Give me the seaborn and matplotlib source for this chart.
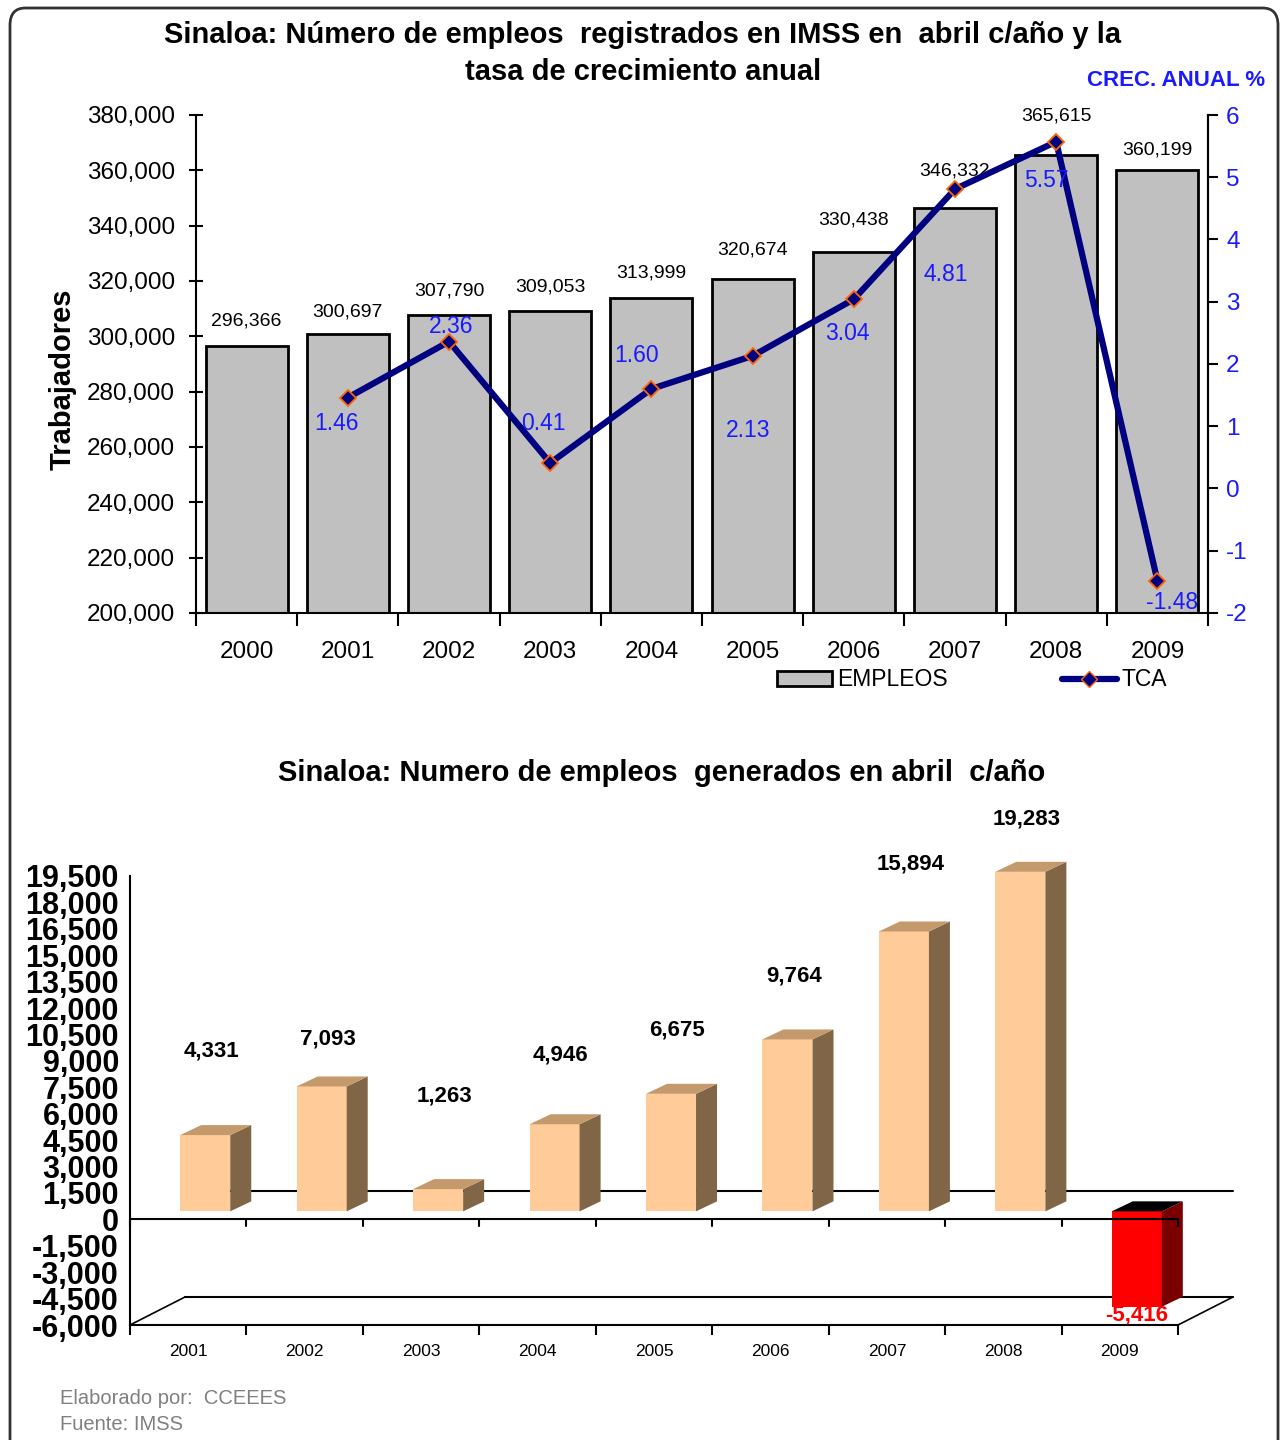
import matplotlib
matplotlib.use("Agg")
import matplotlib.pyplot as plt
import numpy as np
import seaborn as sns
from matplotlib.lines import Line2D
from matplotlib.patches import FancyBboxPatch, Patch, Polygon
from matplotlib.transforms import ScaledTranslation

# datos: empleos registrados en IMSS (abril de cada año)
years = ["2000", "2001", "2002", "2003", "2004", "2005", "2006", "2007", "2008", "2009"]
empleos = [296366, 300697, 307790, 309053, 313999, 320674, 330438, 346332, 365615, 360199]
tca_years = ["2001", "2002", "2003", "2004", "2005", "2006", "2007", "2008", "2009"]
tca = [1.46, 2.36, 0.41, 1.60, 2.13, 3.04, 4.81, 5.57, -1.48]

# empleos generados en abril de cada año
gen_years = ["2001", "2002", "2003", "2004", "2005", "2006", "2007", "2008", "2009"]
generados = [4331, 7093, 1263, 4946, 6675, 9764, 15894, 19283, -5416]

# ajustes de etiquetas (pixeles)
bar_label_pad = [25, 22, 24, 24, 25, 29, 32, 37, 39, 20]
tca_label_off = [(-11, -26), (2, 15), (-7, 39), (-15, 33), (-4, -75),
                 (-6, -34), (-9, -85), (-10, -39), (15, -22)]
gen_label_pad = [84, 47, 93, 69, 64, 63, 67, 53, -8]

sns.set_style("white")
plt.rcParams["font.family"] = ["Liberation Sans", "DejaVu Sans"]
plt.rcParams["axes.unicode_minus"] = False
for k in ["text.color", "axes.labelcolor", "xtick.color", "ytick.color"]:
    plt.rcParams[k] = "black"

W, H = 1283, 1440
fig = plt.figure(figsize=(W / 100, H / 100), dpi=100)
fig.patch.set_facecolor("white")


def fx(px):
    return px / W


def fy(py):
    return 1 - py / H


# marco redondeado
frame = FancyBboxPatch((fx(10), fy(1460)), fx(1268), (1460 - 8) / H,
                       boxstyle="round,pad=0,rounding_size=0.012",
                       transform=fig.transFigure, fill=False,
                       edgecolor="#333333", linewidth=2)
fig.patches.append(frame)

# ---------------- grafica superior ----------------
ax = fig.add_axes([fx(196), fy(613), fx(1208 - 196), (613 - 115) / H])
sns.barplot(x=years, y=empleos, color="#C0C0C0", edgecolor="black",
            linewidth=2, width=0.81, saturation=1, ax=ax)
ax.set_ylim(200000, 380000)
ax.set_xlim(-0.5, len(years) - 0.5)
ax.set_yticks(np.arange(200000, 380001, 20000))
ax.yaxis.set_major_formatter(matplotlib.ticker.StrMethodFormatter("{x:,.0f}"))
ax.tick_params(axis="y", labelsize=17.5, direction="inout", length=10, width=1.5, pad=10)
ax.set_xticks(np.arange(len(years) + 1) - 0.5)
ax.set_xticklabels([])
ax.set_xticks(np.arange(len(years)), minor=True)
ax.set_xticklabels(years, minor=True)
ax.tick_params(axis="x", which="major", direction="out", length=9, width=1.5, bottom=True)
ax.tick_params(axis="x", which="minor", length=0, labelsize=17.5, pad=20)
ax.set_xlabel("")
ax.set_ylabel("Trabajadores", fontsize=21, fontweight="bold")
ax.yaxis.set_label_coords(-0.118, 0.47)
ax.spines["top"].set_visible(False)
for s in ["left", "bottom", "right"]:
    ax.spines[s].set_linewidth(1.5)
    ax.spines[s].set_color("black")

for p, v, pad in zip(ax.patches, empleos, bar_label_pad):
    ax.annotate(f"{v:,}", (p.get_x() + p.get_width() / 2, v),
                xytext=(0, pad), textcoords="offset pixels",
                ha="center", va="center", fontsize=14)

ax2 = ax.twinx()
tca_x = [years.index(y) for y in tca_years]
sns.lineplot(x=tca_x, y=tca, ax=ax2, color="#000080", linewidth=4.5,
             marker="D", markersize=8, markerfacecolor="#000080",
             markeredgecolor="#FF6600", markeredgewidth=1.3, legend=False)
ax2.set_ylim(-2, 6)
ax2.set_yticks(np.arange(-2, 7, 1))
ax2.tick_params(axis="y", labelsize=17.5, labelcolor="#1a1aff", direction="out",
                length=7, width=1.5, pad=6)
ax2.spines["top"].set_visible(False)
ax2.spines["right"].set_linewidth(1.5)
ax2.spines["right"].set_color("black")
ax2.spines["left"].set_visible(False)
ax2.spines["bottom"].set_visible(False)
ax2.set_ylabel("")
for xi, v, off in zip(tca_x, tca, tca_label_off):
    ax2.annotate(f"{v:.2f}", (xi, v), xytext=off, textcoords="offset pixels",
                 ha="center", va="center", fontsize=16.5, color="#1a1aff")

fig.text(fx(643), fy(35), "Sinaloa: Número de empleos  registrados en IMSS en  abril c/año y la",
         ha="center", va="center", fontsize=21, fontweight="bold")
fig.text(fx(643), fy(72), "tasa de crecimiento anual",
         ha="center", va="center", fontsize=21, fontweight="bold")
fig.text(fx(1176), fy(81), "CREC. ANUAL %", ha="center", va="center",
         fontsize=16, fontweight="bold", color="#1a1aff")

# leyenda
handles = [Patch(facecolor="#C0C0C0", edgecolor="black", linewidth=2, label="EMPLEOS"),
           Line2D([], [], color="#000080", linewidth=4.5, marker="D", markersize=8,
                  markerfacecolor="#000080", markeredgecolor="#FF6600", label="TCA")]
fig.legend(handles=handles, loc="center", bbox_to_anchor=(fx(972), fy(680)), ncol=2,
           frameon=False, fontsize=16.5, handlelength=2.4, handleheight=0.6,
           handletextpad=0.2, columnspacing=5.0)

# ---------------- grafica inferior ----------------
bx = fig.add_axes([fx(130), fy(1325), fx(1178 - 130), (1325 - 876) / H])
pal = {y: ("#FFCC99" if v >= 0 else "#FF0000") for y, v in zip(gen_years, generados)}
sns.barplot(x=gen_years, y=generados, hue=gen_years, palette=pal, legend=False,
            width=0.43, saturation=1, linewidth=0, ax=bx)
bx.set_xlim(-0.5, len(gen_years) - 0.5)
bx.set_ylim(-6000, 19500)
bx.set_yticks(np.arange(-6000, 19501, 1500))
bx.yaxis.set_major_formatter(matplotlib.ticker.StrMethodFormatter("{x:,.0f}"))
bx.tick_params(axis="y", labelsize=22, direction="out", length=6, width=1.5, pad=2)
for lab in bx.get_yticklabels():
    lab.set_fontweight("bold")
bx.set_xticks(np.arange(len(gen_years) + 1) - 0.5)
bx.set_xticklabels([])
bx.set_xticks(np.arange(len(gen_years)), minor=True)
bx.set_xticklabels(gen_years, minor=True)
bx.tick_params(axis="x", which="major", direction="out", length=7, width=1.5, bottom=True)
bx.tick_params(axis="x", which="minor", length=0, labelsize=12.5, pad=14)
bx.set_xlabel("")
bx.set_ylabel("")
for s in ["top", "right"]:
    bx.spines[s].set_visible(False)
for s in ["left", "bottom"]:
    bx.spines[s].set_linewidth(1.5)
    bx.spines[s].set_color("black")

# conversion pixeles -> datos para el efecto 3D
inv = bx.transData.inverted()
o = bx.transData.transform((0, 0))


def px2data(dx, dy):
    d = inv.transform((o[0] + dx, o[1] + dy))
    return d[0], d[1]


back = bx.transData + ScaledTranslation(0.55, 0.28, fig.dpi_scale_trans)
x0, x1 = -0.5, len(gen_years) - 0.5
bx.plot([x0, x1], [0, 0], color="black", lw=1.5, transform=back, clip_on=False, zorder=0.5)
bx.plot([x0, x1], [-6000, -6000], color="black", lw=1.5, transform=back, clip_on=False, zorder=0.5)
bdx, bdy = px2data(55, 28)
bx.plot([x0, x0 + bdx], [-6000, -6000 + bdy], color="black", lw=1.2, clip_on=False, zorder=0.5)
bx.plot([x1, x1 + bdx], [-6000, -6000 + bdy], color="black", lw=1.2, clip_on=False, zorder=0.5)

sx, sy = px2data(17, 8)
ddx, ddy = px2data(21, 10)
for p, v in zip(bx.patches, generados):
    p.set_x(p.get_x() + sx)
    p.set_y(p.get_y() + sy)
    p.set_zorder(3)
    p.set_clip_on(False)
    xa, xb = p.get_x(), p.get_x() + p.get_width()
    ya, yb = sorted([p.get_y(), p.get_y() + p.get_height()])
    if v >= 0:
        side_c, top_c = "#806547", "#C49A6C"
    else:
        side_c, top_c = "#7A0000", "#000000"
    bx.add_patch(Polygon([(xb, ya), (xb + ddx, ya + ddy), (xb + ddx, yb + ddy), (xb, yb)],
                         closed=True, facecolor=side_c, edgecolor="none", zorder=3,
                         clip_on=False))
    bx.add_patch(Polygon([(xa, yb), (xa + ddx, yb + ddy), (xb + ddx, yb + ddy), (xb, yb)],
                         closed=True, facecolor=top_c, edgecolor="none", zorder=3,
                         clip_on=False))

# linea del cero (frente) con marcas
bx.plot([x0, x1], [0, 0], color="black", lw=1.5, zorder=4, clip_on=False)
tick_dy = px2data(0, -7)[1]
for xb_ in np.arange(len(gen_years) + 1) - 0.5:
    bx.plot([xb_, xb_], [0, tick_dy], color="black", lw=1.5, zorder=4, clip_on=False)

for i, (v, pad) in enumerate(zip(generados, gen_label_pad)):
    ypos = v + sy
    xpos = i + 0.2 if v >= 0 else i + sx
    bx.annotate(f"{v:,}", (xpos, ypos), xytext=(0, pad),
                textcoords="offset pixels", ha="center", va="center",
                fontsize=16, fontweight="bold", annotation_clip=False,
                color="black" if v >= 0 else "#FF0000", zorder=5)

fig.text(fx(662), fy(773), "Sinaloa: Numero de empleos  generados en abril  c/año",
         ha="center", va="center", fontsize=21, fontweight="bold")

fig.text(fx(60), fy(1398), "Elaborado por:  CCEEES", ha="left", va="center",
         fontsize=14.5, color="#808080")
fig.text(fx(60), fy(1425), "Fuente: IMSS", ha="left", va="center",
         fontsize=14.5, color="#808080")

fig.savefig("out.png", dpi=100)
